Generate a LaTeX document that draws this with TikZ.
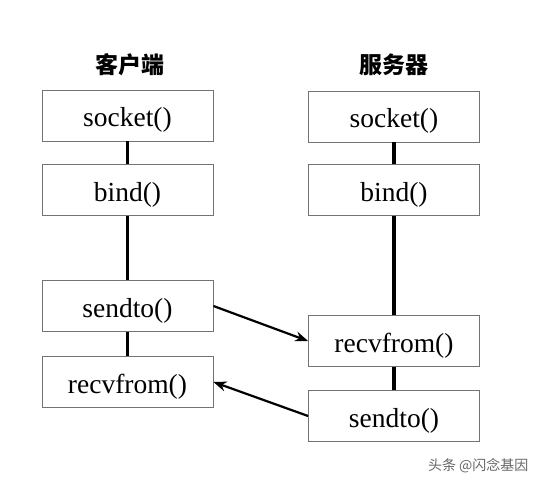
\documentclass[tikz,border=0pt]{standalone}
\usepackage{fontspec}
\setmainfont{Liberation Serif}
\newfontfamily\cjk{Noto Sans CJK SC}
\usetikzlibrary{arrows, arrows.meta}

\begin{document}
\begin{tikzpicture}[x=1pt, y=-1pt,
    call/.style={draw=black!55, line width=0.9pt, minimum width=171pt, minimum height=51pt, inner sep=0pt, text height=23pt, text depth=0pt, font=\fontsize{27.5}{27.5}\selectfont},
    title/.style={font=\cjk\bfseries\fontsize{23}{23}\selectfont},
    flow/.style={line width=3.2pt},
    msg/.style={line width=2.2pt, -{Stealth[length=13pt, width=10pt]}}]
    \useasboundingbox (0,0) rectangle (538,478);

    % client side
    \node[title] (client) at (130,65) {客户端};
    \node[call] (csocket) at (127.5,115.5) {socket()};
    \node[call] (cbind) at (127.5,190) {bind()};
    \node[call] (csend) at (127.5,306) {sendto()};
    \node[call] (crecv) at (127.5,382) {recvfrom()};

    % server side
    \node[title] (server) at (394,65) {服务器};
    \node[call] (ssocket) at (394,116.5) {socket()};
    \node[call] (sbind) at (394,190) {bind()};
    \node[call] (srecv) at (394,341) {recvfrom()};
    \node[call] (ssend) at (394,416) {sendto()};

    \draw[flow] (csocket) -- (cbind) -- (csend) -- (crecv);
    \draw[flow] (ssocket) -- (sbind) -- (srecv) -- (ssend);

    \draw[msg] (csend.east) -- (srecv.west);
    \draw[msg] (ssend.west) -- (crecv.east);

    \node[font=\cjk\fontsize{14}{14}\selectfont, text=black!60, anchor=east] (mark) at (532,466) {头条 @闪念基因};
\end{tikzpicture}
\end{document}
